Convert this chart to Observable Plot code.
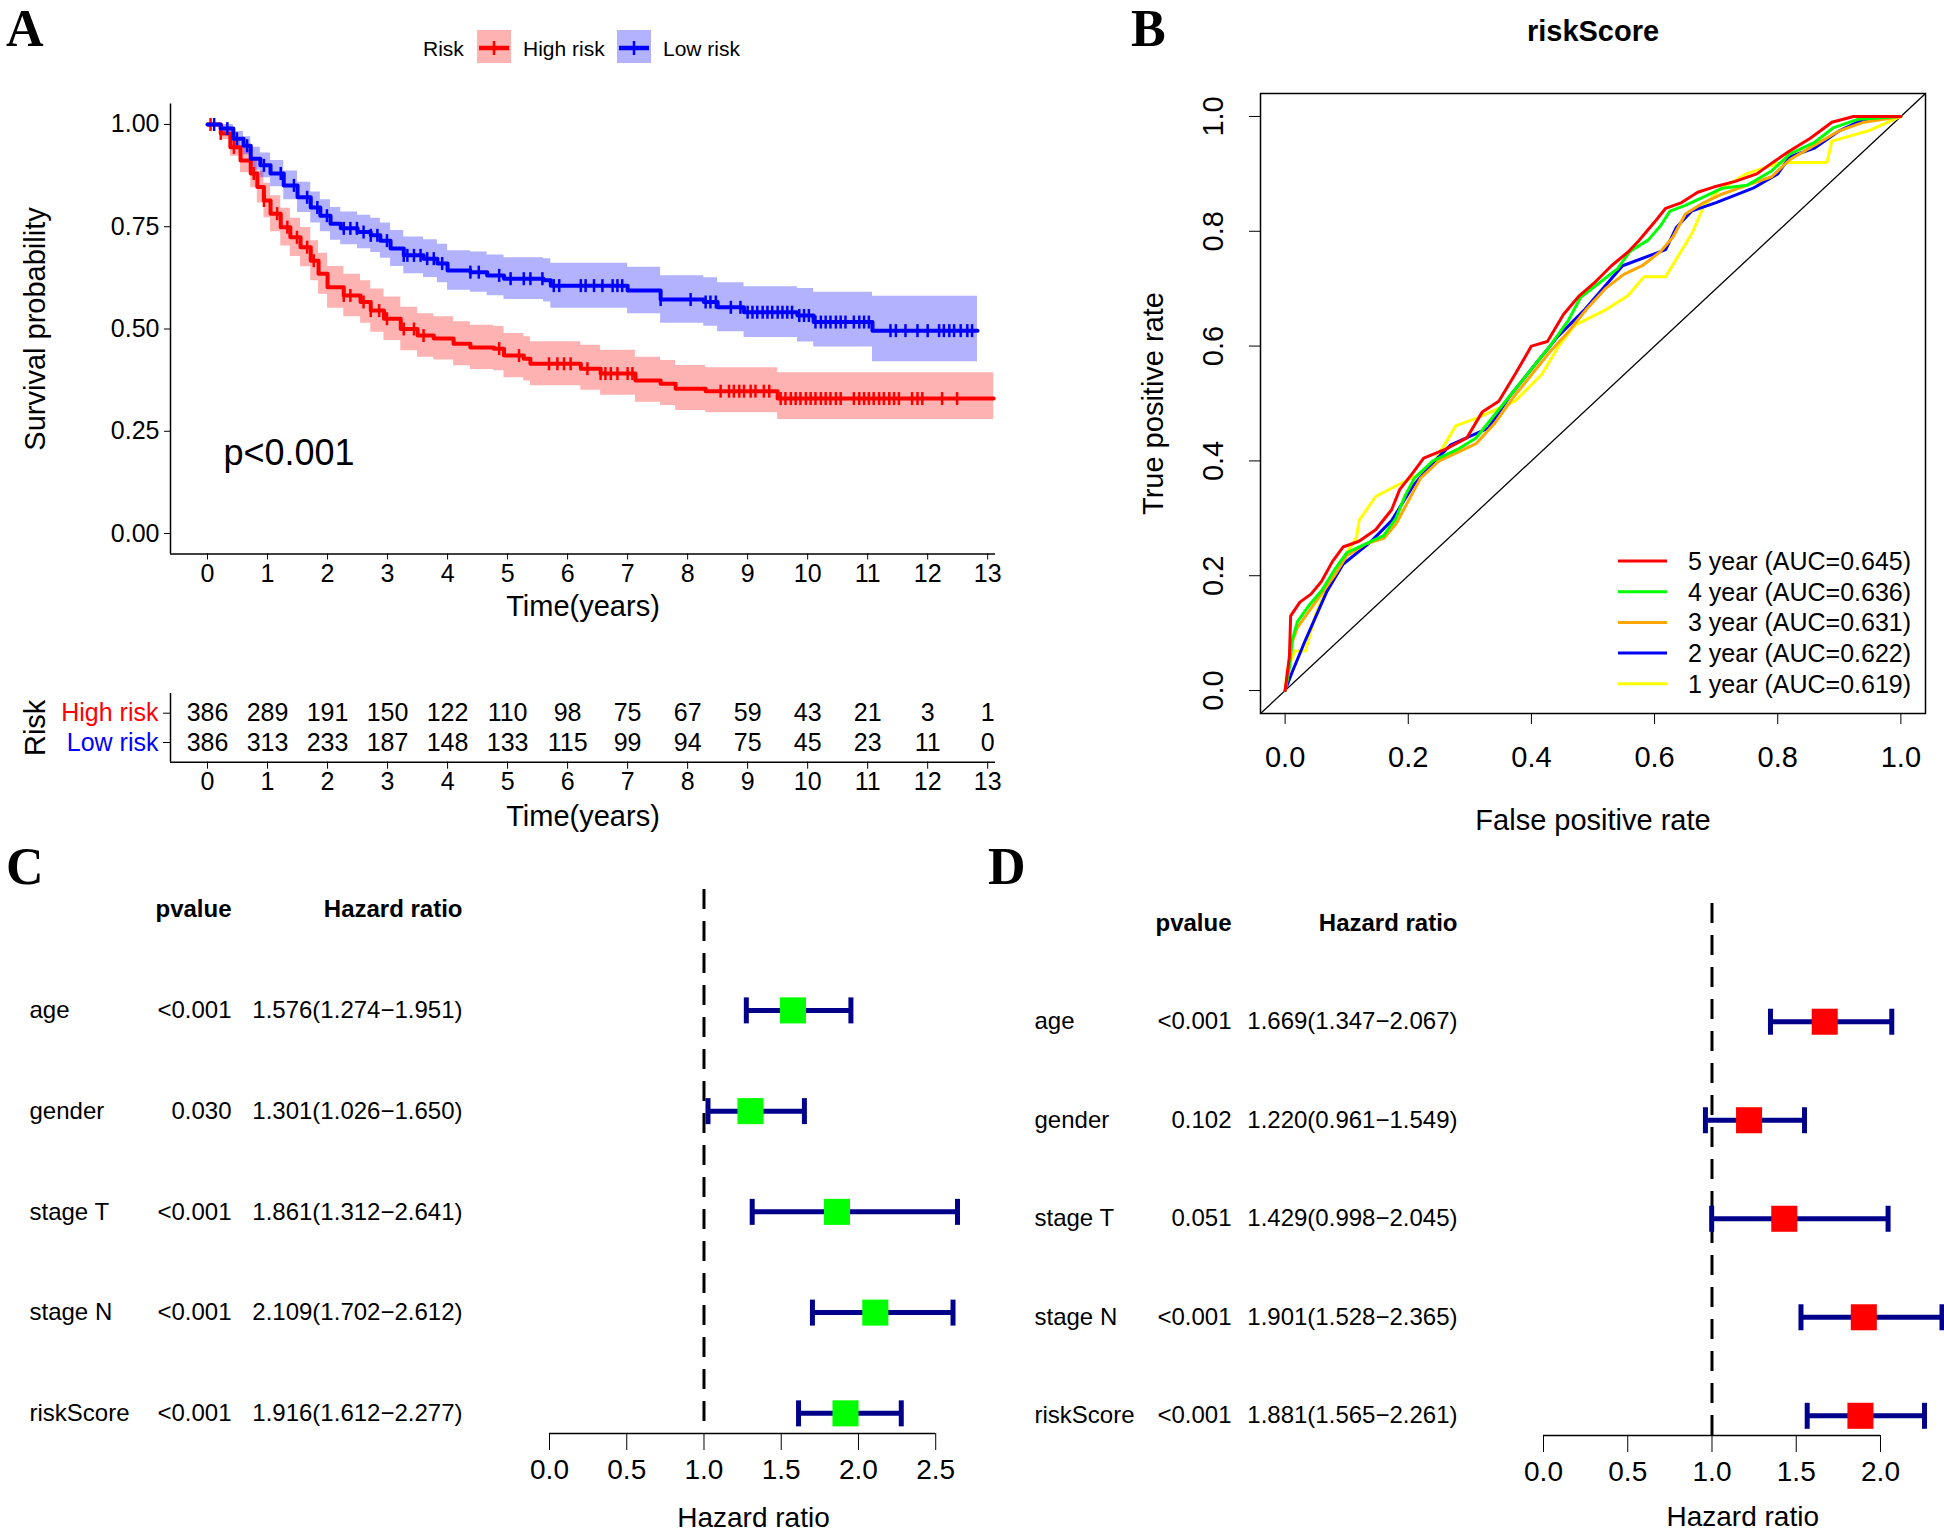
<!DOCTYPE html>
<html><head><meta charset="utf-8">
<script src="https://cdn.jsdelivr.net/npm/d3@7"></script>
<script src="https://cdn.jsdelivr.net/npm/@observablehq/plot@0.6"></script>
<style>
body{margin:0;background:#fff;}
#fig{position:relative;width:1944px;height:1536px;background:#fff;overflow:hidden;}
.panel{position:absolute;}
.panel svg{overflow:visible;display:block;}
</style></head><body><div id="fig"></div>
<script>
const FONT = '"Liberation Sans", Arial, Helvetica, sans-serif';
const SERIF = '"Liberation Serif", "Times New Roman", serif';

// ---------------- Panel A: Kaplan-Meier ----------------
const kmGroups = ["High risk", "Low risk"];
const kmColors = ["#FF0000", "#0000FF"];
const kmTimeTicks = [0,1,2,3,4,5,6,7,8,9,10,11,12,13];
const kmSurvTicks = [0, 0.25, 0.5, 0.75, 1];

const kmHighTime  = [0,.22,.38,.55,.72,.83,.94,1.05,1.22,1.38,1.55,1.72,1.85,2.0,2.27,2.55,2.72,2.94,3.22,3.5,3.77,4.1,4.38,4.77,4.94,5.27,5.38,6.22,6.55,7.13,7.55,7.8,8.3,9.5,13.1];
const kmHighSurv  = [1,.978,.944,.912,.88,.847,.814,.782,.749,.724,.70,.667,.635,.602,.582,.566,.545,.525,.50,.484,.477,.464,.455,.452,.435,.427,.415,.403,.391,.374,.366,.354,.348,.33,.33];
const kmHighLower = [1,.963,.922,.882,.845,.808,.772,.738,.703,.677,.652,.618,.585,.551,.53,.514,.492,.472,.447,.431,.424,.41,.401,.398,.381,.373,.361,.35,.338,.321,.313,.301,.295,.279,.279];
const kmHighUpper = [1,.993,.966,.942,.915,.886,.856,.826,.795,.771,.748,.716,.685,.653,.634,.618,.598,.578,.553,.537,.530,.518,.509,.506,.489,.481,.469,.46,.448,.431,.423,.411,.405,.393,.393];
const kmHighCensor = [.05,.22,.44,.77,.94,1.16,1.33,1.49,1.66,1.77,2.27,2.38,2.6,2.72,2.86,2.99,3.27,3.44,3.6,4.86,5.19,5.69,5.83,5.94,6.05,6.33,6.55,6.63,6.72,6.83,7.0,7.08,8.55,8.69,8.77,8.86,8.94,9.05,9.13,9.27,9.36,9.55,9.63,9.72,9.8,9.88,9.97,10.05,10.13,10.22,10.3,10.38,10.47,10.55,10.77,10.86,10.94,11.02,11.1,11.19,11.27,11.36,11.44,11.52,11.74,11.83,11.91,12.24,12.49];

const kmLowTime  = [0,.22,.43,.6,.72,.88,1.05,1.27,1.5,1.72,1.88,2.05,2.22,2.5,2.72,2.88,3.05,3.27,3.6,3.83,4.0,4.38,4.66,4.94,5.6,5.72,7.0,7.55,8.27,8.5,8.94,9.83,10.1,11.08,12.83];
const kmLowSurv  = [1,.99,.965,.948,.916,.90,.88,.851,.822,.797,.777,.757,.746,.737,.729,.716,.697,.68,.672,.66,.643,.639,.631,.623,.619,.606,.594,.572,.566,.553,.541,.533,.517,.496,.496];
const kmLowLower = [1,.98,.947,.926,.888,.87,.848,.816,.785,.759,.738,.717,.706,.696,.687,.673,.653,.635,.626,.613,.595,.59,.581,.572,.566,.551,.537,.514,.507,.493,.479,.468,.456,.42,.42];
const kmLowUpper = [1,1,.983,.970,.944,.93,.912,.886,.859,.835,.816,.797,.786,.778,.771,.759,.741,.725,.718,.707,.691,.688,.681,.674,.672,.661,.651,.630,.625,.613,.603,.599,.59,.58,.58];
const kmLowCensor = [.11,.33,.49,.66,.94,1.22,1.44,1.66,1.83,1.99,2.27,2.38,2.49,2.6,2.72,2.83,2.99,3.27,3.33,3.44,3.55,3.66,3.77,3.91,4.38,4.52,4.86,5.05,5.27,5.38,5.58,5.77,5.86,6.22,6.3,6.44,6.58,6.75,6.83,6.91,7.55,8.05,8.3,8.38,8.47,8.72,8.88,9.0,9.08,9.16,9.25,9.33,9.41,9.5,9.58,9.66,9.74,9.86,9.94,10.02,10.13,10.22,10.3,10.38,10.47,10.55,10.63,10.77,10.86,10.94,11.02,11.38,11.47,11.63,11.83,12.0,12.19,12.27,12.36,12.44,12.55,12.66,12.74];

const kmPval = "p<0.001";

// number at risk table
const riskTimes = [0,1,2,3,4,5,6,7,8,9,10,11,12,13];
const highRiskN = [386,289,191,150,122,110,98,75,67,59,43,21,3,1];
const lowRiskN  = [386,313,233,187,148,133,115,99,94,75,45,23,11,0];

// ---------------- Panel B: time-dependent ROC ----------------
const rocYears = [5,4,3,2,1];
const rocColors = ["#FF0000","#00FF00","#FFA500","#0000FF","#FFFF00"];
const rocAUC = [0.645,0.636,0.631,0.622,0.619];
const rocTicks = [0,0.2,0.4,0.6,0.8,1];
const rocFpr5 = [0,.007,.009,.024,.042,.059,.077,.094,.12,.147,.173,.186,.208,.225,.26,.295,.32,.347,.373,.40,.426,.452,.478,.504,.53,.557,.574,.60,.618,.644,.67,.696,.731,.766,.792,.818,.853,.888,.923,1];
const rocTpr5 = [0,.06,.13,.154,.168,.19,.225,.25,.26,.28,.315,.35,.38,.405,.42,.44,.485,.504,.55,.60,.608,.655,.688,.712,.74,.764,.783,.816,.84,.85,.868,.877,.887,.90,.92,.939,.962,.99,1,1];
const rocFpr4 = [0,.007,.012,.02,.04,.06,.08,.10,.13,.16,.18,.195,.21,.24,.28,.31,.34,.37,.40,.43,.46,.48,.51,.54,.56,.59,.61,.625,.65,.68,.71,.75,.79,.82,.86,.89,.93,1];
const rocTpr4 = [0,.04,.09,.12,.15,.175,.21,.24,.255,.27,.30,.34,.37,.40,.42,.44,.48,.52,.56,.60,.645,.685,.71,.735,.765,.785,.81,.835,.845,.86,.875,.88,.905,.935,.955,.98,.995,1];
const rocFpr3 = [0,.005,.01,.02,.04,.06,.08,.10,.13,.16,.18,.20,.22,.25,.28,.31,.34,.37,.40,.43,.46,.49,.52,.55,.58,.61,.63,.65,.68,.71,.75,.79,.82,.86,.90,.94,1];
const rocTpr3 = [0,.03,.08,.11,.14,.17,.20,.235,.255,.265,.29,.33,.37,.40,.415,.43,.465,.51,.55,.59,.625,.665,.70,.725,.74,.765,.79,.83,.85,.865,.88,.895,.925,.95,.975,.99,1];
const rocFpr2 = [0,.011,.033,.068,.094,.138,.173,.208,.243,.269,.33,.365,.40,.443,.487,.548,.618,.635,.66,.70,.76,.80,.82,.86,.90,.93,.97,1];
const rocTpr2 = [0,.031,.088,.173,.22,.258,.296,.357,.40,.428,.457,.513,.56,.617,.664,.74,.768,.806,.835,.85,.875,.90,.93,.945,.975,.99,1,1];
const rocFpr1 = [0,.003,.016,.033,.05,.077,.10,.116,.12,.147,.19,.225,.243,.277,.312,.373,.417,.443,.47,.522,.557,.583,.618,.661,.68,.705,.749,.805,.88,.888,.95,1];
const rocTpr1 = [0,.036,.069,.069,.135,.20,.24,.267,.296,.338,.362,.381,.40,.461,.475,.504,.551,.598,.636,.664,.688,.721,.721,.797,.844,.872,.90,.92,.92,.957,.976,1];

// ---------------- Panels C & D: forest plots ----------------
const forestVars = ["age","gender","stage T","stage N","riskScore"];
const uniP  = ["<0.001","0.030","<0.001","<0.001","<0.001"];
const uniHR = [1.576,1.301,1.861,2.109,1.916];
const uniLo = [1.274,1.026,1.312,1.702,1.612];
const uniHi = [1.951,1.650,2.641,2.612,2.277];
const uniTicks = [0,0.5,1,1.5,2,2.5];
const multiP  = ["<0.001","0.102","0.051","<0.001","<0.001"];
const multiHR = [1.669,1.220,1.429,1.901,1.881];
const multiLo = [1.347,0.961,0.998,1.528,1.565];
const multiHi = [2.067,1.549,2.045,2.365,2.261];
const multiTicks = [0,0.5,1,1.5,2];

// ================= drawing =================
const fig = d3.select("#fig");
const baseStyle = {fontFamily: FONT, fontSize: "25px", color: "black", background: "transparent", overflow: "visible", maxWidth: "none"};
function place(node, left, top) {
  fig.append("div").attr("class","panel").style("left", left+"px").style("top", top+"px").node().appendChild(node);
}
const vbar = {draw(ctx, size) { const r = Math.sqrt(size / Math.PI); ctx.moveTo(0, -r); ctx.lineTo(0, r); }};
const centered = {textAnchor: "middle", lineAnchor: "middle"};

// --- KM curves ---
const kmHigh = kmHighTime.map((t,i) => ({t, s: kmHighSurv[i], lo: kmHighLower[i], hi: kmHighUpper[i]}));
const kmLow  = kmLowTime.map((t,i) => ({t, s: kmLowSurv[i], lo: kmLowLower[i], hi: kmLowUpper[i]}));
const survAt = (times, surv, t) => surv[Math.max(0, d3.bisectRight(times, t) - 1)];
const censHigh = kmHighCensor.map(t => ({t, s: survAt(kmHighTime, kmHighSurv, t)}));
const censLow  = kmLowCensor.map(t => ({t, s: survAt(kmLowTime, kmLowSurv, t)}));
const kmX = [-0.617, 13.13];
const kmY = [-0.05, 1.05];

const km = Plot.plot({
  width: 1000, height: 640, marginLeft: 170, marginRight: 5, marginTop: 103.5, marginBottom: 86.5,
  style: baseStyle,
  x: {domain: kmX, axis: null}, y: {domain: kmY, axis: null},
  marks: [
    Plot.areaY(kmHigh, {x: "t", y1: "lo", y2: "hi", curve: "step-after", fill: kmColors[0], fillOpacity: 0.3}),
    Plot.areaY(kmLow,  {x: "t", y1: "lo", y2: "hi", curve: "step-after", fill: kmColors[1], fillOpacity: 0.3}),
    Plot.line(kmHigh, {x: "t", y: "s", curve: "step-after", stroke: kmColors[0], strokeWidth: 4}),
    Plot.dot(censHigh, {x: "t", y: "s", symbol: vbar, r: 6.5, stroke: kmColors[0], strokeWidth: 2.5, fill: "none"}),
    Plot.line(kmLow, {x: "t", y: "s", curve: "step-after", stroke: kmColors[1], strokeWidth: 4}),
    Plot.dot(censLow, {x: "t", y: "s", symbol: vbar, r: 6.5, stroke: kmColors[1], strokeWidth: 2.5, fill: "none"}),
    Plot.ruleX([kmX[0]], {strokeWidth: 1.5}),
    Plot.ruleY([kmY[0]], {strokeWidth: 1.5}),
    Plot.axisX({ticks: kmTimeTicks, tickSize: 6, tickPadding: 4, fontSize: 25, label: null}),
    Plot.axisY({ticks: kmSurvTicks, tickFormat: d3.format(".2f"), tickSize: 6, tickPadding: 5, fontSize: 25, label: null}),
    Plot.text(["Survival probability"], {frameAnchor: "left", rotate: -90, dx: -135, fontSize: 29, ...centered}),
    Plot.text(["Time(years)"], {frameAnchor: "bottom", dy: 53, fontSize: 29, ...centered}),
    Plot.text([kmPval], {frameAnchor: "bottom-left", textAnchor: "start", lineAnchor: "middle", dx: 53, dy: -101, fontSize: 36})
  ]
});
place(km, 0, 0);

// --- risk table ---
const riskRowPos = [2, 1];
const riskRows = riskTimes.flatMap((t,i) => [
  {t, row: riskRowPos[0], n: highRiskN[i]},
  {t, row: riskRowPos[1], n: lowRiskN[i]}
]);
const rtY = [0.328, 2.672];
const rt = Plot.plot({
  width: 1000, height: 200, marginLeft: 170, marginRight: 5, marginTop: 53, marginBottom: 78.3,
  style: baseStyle,
  x: {domain: kmX, axis: null}, y: {domain: rtY, axis: null}, color: {type: "identity"},
  marks: [
    Plot.text(riskRows, {x: "t", y: "row", text: "n", fontSize: 25}),
    Plot.ruleX([kmX[0]], {strokeWidth: 1.5}),
    Plot.ruleY([rtY[0]], {strokeWidth: 1.5}),
    Plot.axisX({ticks: riskTimes, tickSize: 7, tickPadding: 3, fontSize: 25, label: null}),
    Plot.axisY({ticks: riskRowPos, tickSize: 7, tickFormat: () => "", label: null}),
    Plot.text(kmGroups, {y: (d,i) => riskRowPos[i], text: d => d, fill: (d,i) => kmColors[i], frameAnchor: "left", textAnchor: "end", dx: -12, fontSize: 25}),
    Plot.text(["Risk"], {frameAnchor: "left", rotate: -90, dx: -135, fontSize: 29, ...centered}),
    Plot.text(["Time(years)"], {frameAnchor: "bottom", dy: 55, fontSize: 29, ...centered})
  ]
});
place(rt, 0, 640);

// --- ROC ---
const rocFpr = [rocFpr5, rocFpr4, rocFpr3, rocFpr2, rocFpr1];
const rocTpr = [rocTpr5, rocTpr4, rocTpr3, rocTpr2, rocTpr1];
const rocX = [-0.04, 1.04];
const rocCurves = rocYears.map((y,k) => rocFpr[k].map((f,i) => ({fpr: f, tpr: rocTpr[k][i]}))).reverse();
const rocCurveColors = rocColors.slice().reverse();
const fmt1 = d3.format(".1f");
const roc = Plot.plot({
  width: 844, height: 850, marginLeft: 160, marginRight: 19, marginTop: 93, marginBottom: 137,
  style: baseStyle,
  x: {domain: rocX, axis: null}, y: {domain: rocX, axis: null},
  marks: [
    Plot.link([rocX], {x1: d => d[0], y1: d => d[0], x2: d => d[1], y2: d => d[1], stroke: "black", strokeWidth: 1.3}),
    ...rocCurves.map((c,k) => Plot.line(c, {x: "fpr", y: "tpr", stroke: rocCurveColors[k], strokeWidth: 3})),
    Plot.frame({stroke: "black", strokeWidth: 1.5}),
    Plot.axisX({ticks: rocTicks, tickFormat: fmt1, tickSize: 11, tickPadding: 22, fontSize: 29, label: null}),
    Plot.axisY({ticks: rocTicks, tickFormat: () => "", tickSize: 11, label: null}),
    Plot.text(rocTicks, {y: d => d, text: d => fmt1(d), frameAnchor: "left", rotate: -90, dx: -47, fontSize: 29, ...centered}),
    Plot.text(["False positive rate"], {frameAnchor: "bottom", dy: 107, fontSize: 29, ...centered}),
    Plot.text(["True positive rate"], {frameAnchor: "left", rotate: -90, dx: -107, fontSize: 29, ...centered}),
    Plot.text(["riskScore"], {frameAnchor: "top", dy: -62, fontSize: 29, fontWeight: "bold", ...centered})
  ]
});
place(roc, 1100, 0);

// --- forest plots ---
const fmt3 = d3.format(".3f");
function forest(pv, hr, lo, hi, ticks, color, o) {
  const n = forestVars.length;
  const rows = forestVars.map((v,i) => ({v, row: n - i, p: pv[i], hr: hr[i], lo: lo[i], hi: hi[i],
    label: `${fmt3(hr[i])}(${fmt3(lo[i])}\u2212${fmt3(hi[i])})`}));
  const yDom = [0.8, n + 1.2];
  return Plot.plot({
    width: o.width, height: 686, marginLeft: o.ml, marginRight: o.mr, marginTop: o.mt, marginBottom: o.mb,
    style: baseStyle,
    x: {domain: [0, d3.max(hi)], axis: null}, y: {domain: yDom, axis: null},
    marks: [
      Plot.ruleX([1], {strokeDasharray: "20,12", strokeWidth: 3}),
      Plot.ruleY(rows, {y: "row", x1: "lo", x2: "hi", stroke: "#00008B", strokeWidth: 5}),
      Plot.dot(rows, {x: "lo", y: "row", symbol: vbar, r: 13, stroke: "#00008B", strokeWidth: 5, fill: "none"}),
      Plot.dot(rows, {x: "hi", y: "row", symbol: vbar, r: 13, stroke: "#00008B", strokeWidth: 5, fill: "none"}),
      Plot.dot(rows, {x: "hr", y: "row", symbol: "square", r: 14.7, fill: color, stroke: "none"}),
      Plot.ruleY([yDom[0]], {x1: ticks[0], x2: ticks[ticks.length - 1], strokeWidth: 1.5}),
      Plot.axisX({ticks, tickFormat: fmt1, tickSize: 17, tickPadding: 9, fontSize: 28, label: null}),
      Plot.text(["Hazard ratio"], {frameAnchor: "bottom", dy: o.titleDy, fontSize: 28, ...centered}),
      Plot.text(rows, {y: "row", text: "v", frameAnchor: "left", textAnchor: "start", dx: o.nameDx, fontSize: 24}),
      Plot.text(rows, {y: "row", text: "p", frameAnchor: "left", textAnchor: "end", dx: o.pDx, fontSize: 24}),
      Plot.text(rows, {y: "row", text: "label", frameAnchor: "left", textAnchor: "end", dx: o.hrDx, fontSize: 24}),
      Plot.text(["pvalue"], {y: () => n + 1, frameAnchor: "left", textAnchor: "end", dx: o.pDx, fontSize: 24, fontWeight: "bold"}),
      Plot.text(["Hazard ratio"], {y: () => n + 1, frameAnchor: "left", textAnchor: "end", dx: o.hrDx, fontSize: 24, fontWeight: "bold"})
    ]
  });
}
place(forest(uniP, uniHR, uniLo, uniHi, uniTicks, "#00FF00",
  {width: 975, ml: 549, mr: 18, mt: 39, mb: 103, nameDx: -520, pDx: -318, hrDx: -87, titleDy: 85}), 0, 850);
place(forest(multiP, multiHR, multiLo, multiHi, multiTicks, "#FF0000",
  {width: 969, ml: 568, mr: 2.5, mt: 53, mb: 101, nameDx: -509, pDx: -312, hrDx: -86, titleDy: 82}), 975, 850);

// --- overlay: panel letters and legends ---
const ov = fig.append("svg").attr("width", 1944).attr("height", 1536)
  .style("position", "absolute").style("left", 0).style("top", 0).style("pointer-events", "none");
const letters = [["A", 6, 46], ["B", 1131, 46], ["C", 6, 884], ["D", 988, 884]];
ov.selectAll("text.letter").data(letters).join("text").attr("class", "letter")
  .attr("x", d => d[1]).attr("y", d => d[2]).text(d => d[0])
  .attr("font-family", SERIF).attr("font-weight", "bold").attr("font-size", 52);

// KM legend
const lg = ov.append("g").attr("font-family", FONT).attr("font-size", 21);
lg.append("text").attr("x", 423).attr("y", 55.5).text("Risk");
const keyX = [477, 617], labX = [523, 663];
kmGroups.forEach((g,i) => {
  lg.append("rect").attr("x", keyX[i]).attr("y", 30).attr("width", 34).attr("height", 33)
    .attr("fill", kmColors[i]).attr("fill-opacity", 0.3);
  lg.append("line").attr("x1", keyX[i] + 2).attr("x2", keyX[i] + 32).attr("y1", 48).attr("y2", 48)
    .attr("stroke", kmColors[i]).attr("stroke-width", 4.5);
  lg.append("line").attr("x1", keyX[i] + 17).attr("x2", keyX[i] + 17).attr("y1", 41).attr("y2", 55)
    .attr("stroke", kmColors[i]).attr("stroke-width", 2.5);
  lg.append("text").attr("x", labX[i]).attr("y", 55.5).text(g);
});

// ROC legend
const rl = ov.append("g").attr("font-family", FONT).attr("font-size", 25);
rocYears.forEach((y,i) => {
  const cy = 561 + i * 30.7;
  rl.append("line").attr("x1", 1618).attr("x2", 1667).attr("y1", cy).attr("y2", cy)
    .attr("stroke", rocColors[i]).attr("stroke-width", 3);
  rl.append("text").attr("x", 1688).attr("y", cy + 9).text(`${y} year (AUC=${rocAUC[i].toFixed(3)})`);
});
</script></body></html>
